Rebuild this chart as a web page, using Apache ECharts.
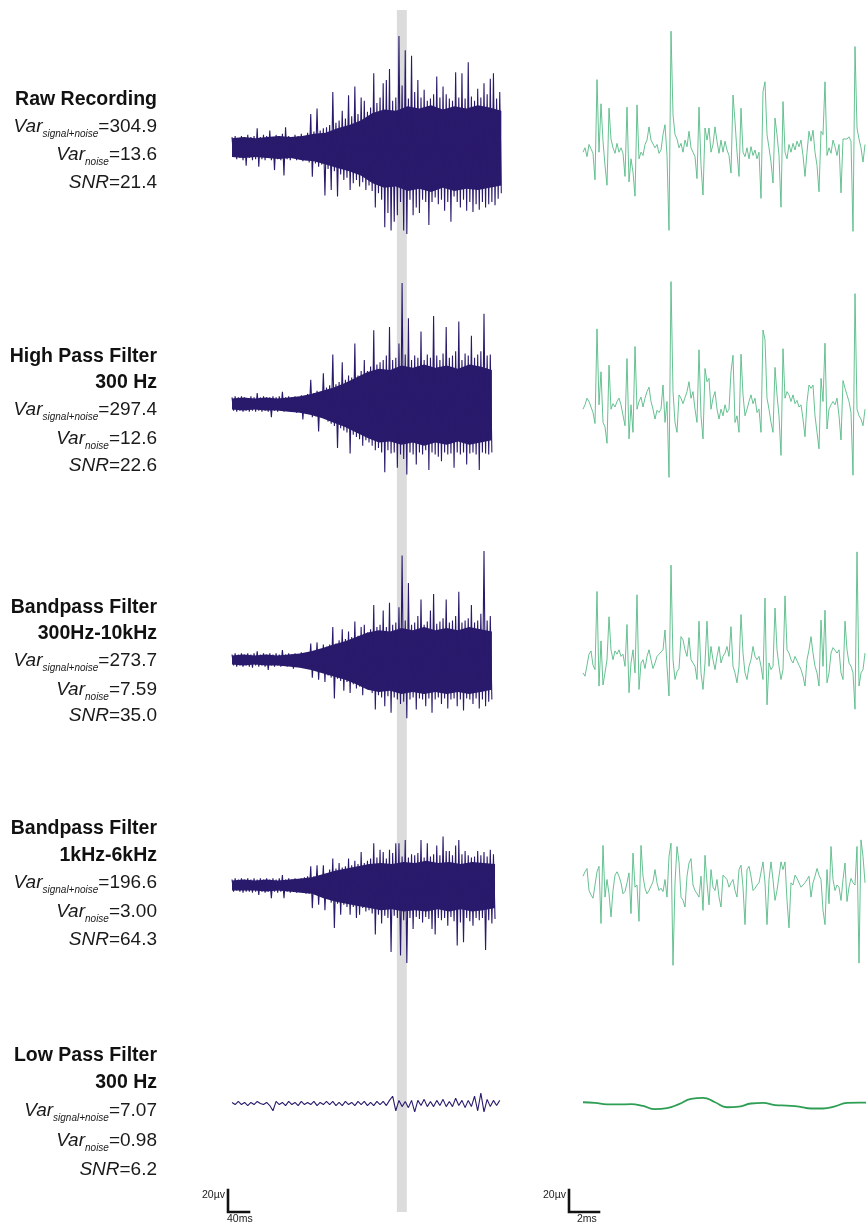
<!DOCTYPE html>
<html><head><meta charset="utf-8">
<script src="https://cdn.jsdelivr.net/npm/echarts@6/dist/echarts.min.js"></script>
<style>html,body{margin:0;padding:0;background:#fff}#c{width:866px;height:1228px}</style>
</head><body><div id="c"></div><script>
// ---------------- DATA ----------------
const rowTitles = [['Raw Recording'], ['High Pass Filter', '300 Hz'], ['Bandpass Filter', '300Hz-10kHz'], ['Bandpass Filter', '1kHz-6kHz'], ['Low Pass Filter', '300 Hz']];
const varSignalNoise = ['304.9', '297.4', '273.7', '196.6', '7.07'];
const varNoise = ['13.6', '12.6', '7.59', '3.00', '0.98'];
const snrValues = ['21.4', '22.6', '35.0', '64.3', '6.2'];
const highlightWindowMs = [314, 333];          // grey band on the long traces
const scaleLeft = { uv: 20, ms: 40, uvLabel: '20µv', msLabel: '40ms' };
const scaleRight = { uv: 20, ms: 2, uvLabel: '20µv', msLabel: '2ms' };

// long traces (µV): extremes per 6 ms bin (upper, lower)
const raw_upper = [9,10,8,10,9,11,9,10,17,9, 11,10,15,9,11,10,12,18,10,9, 11,10,12,10,13,30,14,35,15,17, 18,20,50,22,24,33,26,47,28,55, 30,45,42,32,36,67,40,45,58,61, 71,42,45,101,56,88,44,83,50,61, 45,52,42,44,48,64,45,55,48,44, 42,68,45,67,44,77,46,42,53,45, 58,48,62,67,44,50];
const raw_lower = [-9,-11,-10,-12,-17,-10,-12,-11,-18,-11, -12,-10,-12,-21,-11,-12,-26,-11,-12,-10, -12,-11,-13,-12,-14,-27,-15,-18,-16,-44, -20,-39,-22,-45,-25,-30,-28,-39,-33,-30, -36,-32,-39,-35,-40,-55,-42,-48,-73,-60, -76,-68,-62,-50,-76,-79,-48,-62,-55,-60, -48,-50,-71,-50,-46,-52,-48,-58,-50,-68, -45,-50,-55,-48,-58,-50,-59,-52,-57,-50, -55,-52,-50,-53,-47,-42];
const hp_upper = [6,7,6,7,6,5,7,6,10,6, 7,6,6,7,6,7,11,6,7,6, 7,6,8,7,9,22,10,12,11,28, 15,17,45,18,20,38,22,26,24,55, 26,30,40,30,34,67,36,38,40,44, 70,40,42,55,110,45,78,40,44,42, 66,40,45,42,80,44,40,46,70,42, 44,48,75,40,46,44,62,42,45,48, 82,44,45];
const hp_lower = [-6,-7,-6,-7,-6,-7,-6,-7,-6,-7, -6,-7,-12,-6,-7,-6,-7,-6,-7,-6, -8,-7,-14,-8,-9,-12,-11,-25,-12,-13, -16,-18,-20,-40,-22,-24,-26,-45,-28,-30, -32,-38,-33,-35,-38,-42,-40,-44,-62,-42, -45,-44,-58,-46,-50,-64,-44,-46,-55,-44, -46,-42,-60,-44,-46,-48,-52,-44,-46,-45, -58,-44,-46,-44,-55,-45,-44,-46,-60,-44, -45,-46,-44];
const bp1_upper = [5,6,5,6,5,6,5,6,8,5, 6,5,6,5,6,5,9,5,6,5, 6,5,7,6,7,15,8,16,9,14, 12,14,30,15,18,28,19,26,21,35, 22,30,32,25,28,50,30,32,45,30, 52,32,34,48,95,36,70,32,34,40, 55,32,35,45,60,33,35,38,55,34, 36,40,62,34,36,38,50,34,36,42, 99,36,40];
const bp1_lower = [-5,-6,-5,-6,-5,-6,-7,-5,-6,-5, -6,-9,-5,-6,-5,-6,-5,-6,-5,-8, -6,-5,-6,-7,-8,-16,-9,-18,-10,-20, -14,-16,-35,-17,-19,-28,-20,-30,-22,-26, -24,-32,-25,-27,-30,-45,-32,-34,-42,-33, -48,-34,-36,-40,-38,-53,-36,-34,-45,-35, -36,-42,-35,-48,-36,-34,-40,-35,-44,-36, -35,-42,-36,-46,-35,-36,-40,-35,-44,-36, -42,-38,-36];
const bp2_upper = [5,6,5,6,5,6,5,6,5,6, 5,6,5,6,5,6,9,5,6,5, 6,5,6,7,8,17,8,18,9,18, 10,14,24,15,20,16,17,24,18,22, 19,30,20,22,24,38,25,32,30,24, 32,29,38,38,26,41,25,28,27,29, 41,25,38,26,28,36,27,44,31,31, 27,36,41,28,31,27,25,26,31,27, 30,26,32,28];
const bp2_lower = [-6,-5,-6,-7,-6,-6,-7,-6,-9,-6, -7,-6,-12,-6,-7,-6,-12,-6,-7,-6, -7,-6,-7,-8,-8,-21,-9,-18,-10,-23, -11,-16,-39,-17,-27,-18,-20,-27,-20,-30, -27,-21,-24,-23,-26,-45,-27,-35,-28,-30, -61,-28,-30,-64,-32,-71,-30,-40,-29,-31, -34,-29,-31,-40,-45,-30,-32,-30,-37,-29, -33,-55,-34,-52,-30,-33,-37,-30,-32,-30, -59,-32,-35,-31];
// dense core band of each long trace (µV), 24 readings spread evenly over the trace
const raw_core_upper = [8,9,8,9,10,9,10,12,13,17,20,24,31,34,33,37,35,38,34,37,35,38,36,33];
const raw_core_lower = [-9,-10,-9,-10,-11,-10,-12,-13,-16,-19,-22,-26,-33,-37,-36,-40,-38,-41,-37,-40,-38,-39,-37,-35];
const hp_core_upper = [5,6,5,6,5,6,7,9,12,15,19,24,29,32,31,35,33,36,33,35,32,36,34,31];
const hp_core_lower = [-5,-6,-5,-6,-6,-7,-8,-10,-13,-17,-21,-26,-31,-35,-34,-37,-35,-38,-35,-37,-34,-37,-35,-33];
const bp1_core_upper = [4,5,4,5,4,5,6,8,11,14,17,21,25,27,26,29,27,30,27,29,27,30,28,26];
const bp1_core_lower = [-4,-5,-4,-5,-5,-6,-7,-9,-12,-15,-18,-22,-27,-29,-28,-31,-29,-31,-29,-31,-29,-31,-29,-27];
const bp2_core_upper = [4,5,4,5,4,5,6,7,10,13,15,17,19,20,19,21,20,22,20,21,19,21,20,19];
const bp2_core_lower = [-5,-5,-5,-6,-5,-6,-7,-8,-12,-15,-17,-19,-21,-23,-22,-24,-23,-24,-22,-24,-22,-24,-23,-21];
const lp_long = [1,-1,2,-1,1,-2,1,-1,2,0, -1,1,-2,-7,2,-1,1,-2,2,-1, 1,-2,2,-1,1,-1,2,-2,1,-1, 2,-1,2,-2,1,-2,2,-1,1,-2, 2,-1,2,-2,1,-2,2,-1,2,-2, 3,7,-7,3,-3,2,-4,3,-8,3, -2,4,-3,2,-3,3,-2,4,-3,2, -3,5,-2,3,-4,3,-3,7,-7,10, -8,4,-3,3,-2,3];

// short (zoomed) traces (µV), one sample every 2/15 ms
const raw_short = [-2,2,-6,5,5,-3,-27,64,-2,42, 8,-14,-32,38,10,2,-3,6,-2,2, -3,-24,39,-29,-8,-20,-42,41,-8,-2, -5,5,9,21,9,8,2,5,-3,0, 14,23,-5,-73,108,32,14,10,2,6, -2,9,3,17,2,-2,-6,-26,39,-14, -41,20,9,20,-2,5,21,8,-3,9, -2,8,0,-5,-21,50,26,-2,-24,38, -2,-6,2,-8,3,-5,0,-8,-2,-44, 53,62,14,2,-11,-30,29,14,-5,-52, 44,-2,-8,5,-2,6,0,8,3,9, -5,-24,-2,17,8,18,-2,-14,-38,17, 14,62,-5,2,-3,9,3,-5,5,-39, 10,9,10,12,8,-74,94,20,10,2, -11,5];
const hp_short = [-2,2,8,5,6,-5,-15,71,2,32, -14,-18,-33,38,-2,3,0,5,8,2, 3,-17,44,-29,2,-23,55,-2,5,9, 0,8,14,18,5,-2,-11,-3,-5,-2, 20,-14,5,-64,114,14,-14,-23,11,8, 3,2,14,23,8,14,-2,-14,52,-8, -29,35,23,26,-2,8,14,-2,-11,-2, -8,2,-5,-2,32,47,-14,-8,-23,48, 11,-8,-2,5,11,3,8,-5,-2,-23, 70,61,8,-2,-14,-23,36,11,-8,-44, 53,8,14,11,5,11,3,6,0,2, -11,-27,5,20,17,20,-8,-23,-38,26, 5,58,-20,-2,2,5,2,8,-8,-30, 24,17,11,5,-5,-62,103,-2,-8,-11, -17,-2];
const bp1_short = [-9,-12,-2,8,11,-2,-6,65,-21,20, -20,-9,3,42,12,3,11,8,12,6, 8,-3,35,-27,0,12,-9,62,-24,0, 3,-5,6,12,3,-5,0,6,8,9, 12,30,-3,-30,89,3,-15,-8,-5,24, 21,12,6,23,3,0,-3,-15,38,-9, -24,0,38,-3,15,3,-6,6,15,0, 6,9,15,6,33,-3,-9,-18,-3,44, 9,-9,-15,-3,3,15,6,3,6,-3, -15,59,-38,0,-6,-3,50,12,-3,-15, -6,61,12,9,3,0,6,2,-2,-6, -12,-21,3,12,24,9,-3,-9,-21,39, -3,48,-18,-9,9,14,15,9,12,-9, -15,38,12,0,-3,-9,-42,101,-21,-9, -6,9];
const bp2_short = [8,12,15,-5,-9,-12,0,12,17,-35, 36,-11,5,-8,-29,-5,9,12,8,2, -8,-6,2,11,-26,29,-2,0,-33,36, 8,-3,-8,-5,-6,3,14,2,-5,-3, -6,5,-11,26,38,-73,2,35,21,-11, -14,-20,8,20,24,0,-5,-8,-11,8, -23,27,2,-18,14,-2,-5,5,-11,-20, 9,8,5,-2,2,5,-5,-11,14,18, -2,-36,14,17,8,-5,-3,0,2,3, 21,2,-36,5,21,5,-14,-5,8,21, 14,21,-14,-39,2,0,9,6,5,-2, -3,2,5,8,-11,2,8,15,9,5, -23,-36,14,-17,35,5,-5,0,-2,-14, 5,20,-15,-2,6,2,0,35,-71,41, 26,2];
// low-pass short trace, one sample every 0.8 ms
const lp_short = [1.2,0.6,-0.9,-0.9,-0.6,-2.4,-5.5,-4.5,-0.6,4.5, 5.5,1.2,-3.6,-3,0,0.6,-1.5,-2.1,-3,-4.8, -4.8,-2.7,0.6,0.9,0.6];

// ---------------- LAYOUT ----------------
const PX_PER_UV = 1.1, Y_RANGE = 120;
const LONG = { left: 232, pxPerMs: 0.525, binMs: 6, maxMs: 513 };
const SHORT = { left: 583, pxPerMs: 15, dtMs: 2 / 15, lpDtMs: 0.8, maxMs: 18.8 };
const blueCenters = [147, 404, 660, 885, 1111];
const greenCenters = [150, 407, 663, 885, 1111];
const titleY = [[100], [357, 383], [608, 634], [829, 856], [1056, 1083]];
const statY = [[127, 155, 183], [410, 439, 466], [661, 690, 716], [883, 912, 940], [1111, 1141, 1170]];
const BLUE_C = '#2a1a6c', GREEN_C = '#56ba86', GREEN_LP = '#2e9e55';

const longSets = [[raw_upper, raw_lower], [hp_upper, hp_lower], [bp1_upper, bp1_lower], [bp2_upper, bp2_lower]];
const coreSets = [[raw_core_upper, raw_core_lower], [hp_core_upper, hp_core_lower], [bp1_core_upper, bp1_core_lower], [bp2_core_upper, bp2_core_lower]];
const shortSets = [raw_short, hp_short, bp1_short, bp2_short];

function dense(up, lo, bin) { const o = []; for (let k = 0; k < up.length; k++) { o.push([k * bin, up[k]]); o.push([k * bin + bin / 2, lo[k]]); } return o; }
function simple(v, dt) { return v.map((y, i) => [i * dt, y]); }
function spread(v, spanMs) { return v.map((y, i) => [i * spanMs / (v.length - 1), y]); }

const grid = [], xAxis = [], yAxis = [], series = [];
function addGrid(g, xmin, xmax, ymin, ymax) {
  grid.push(g); const i = grid.length - 1;
  xAxis.push({ type: 'value', gridIndex: i, min: xmin, max: xmax, show: false });
  yAxis.push({ type: 'value', gridIndex: i, min: ymin, max: ymax, show: false });
  return i;
}
const H = 2 * Y_RANGE * PX_PER_UV;

// grey band
const bandIdx = addGrid({ left: LONG.left, top: 10, width: LONG.maxMs * LONG.pxPerMs, height: 1202 }, 0, LONG.maxMs, 0, 1);
series.push({ type: 'line', xAxisIndex: bandIdx, yAxisIndex: bandIdx, data: [[0, 0]], symbol: 'none', lineStyle: { opacity: 0 }, z: 0,
  markArea: { silent: true, itemStyle: { color: '#dcdcdc' }, data: [[{ xAxis: highlightWindowMs[0] }, { xAxis: highlightWindowMs[1] }]] } });

for (let r = 0; r < 5; r++) {
  const bi = addGrid({ left: LONG.left, top: blueCenters[r] - H / 2, width: LONG.maxMs * LONG.pxPerMs, height: H }, 0, LONG.maxMs, -Y_RANGE, Y_RANGE);
  if (r < 4) {
    const span = (longSets[r][0].length - 1) * LONG.binMs + LONG.binMs / 2;
    coreSets[r].forEach(c => series.push({ type: 'line', xAxisIndex: bi, yAxisIndex: bi, data: spread(c, span), symbol: 'none', z: 2,
      lineStyle: { width: 0, opacity: 0 }, areaStyle: { color: BLUE_C, opacity: 1 } }));
    series.push({ type: 'line', xAxisIndex: bi, yAxisIndex: bi, data: dense(longSets[r][0], longSets[r][1], LONG.binMs), symbol: 'none', z: 3,
      lineStyle: { color: BLUE_C, width: 1.1 } });
  } else {
    series.push({ type: 'line', xAxisIndex: bi, yAxisIndex: bi, data: simple(lp_long, LONG.binMs), symbol: 'none', z: 3,
      lineStyle: { color: BLUE_C, width: 1.1 } });
  }
  const gi = addGrid({ left: SHORT.left, top: greenCenters[r] - H / 2, width: SHORT.maxMs * SHORT.pxPerMs, height: H }, 0, SHORT.maxMs, -Y_RANGE, Y_RANGE);
  const gdata = r < 4 ? simple(shortSets[r], SHORT.dtMs) : simple(lp_short, SHORT.lpDtMs);
  series.push({ type: 'line', xAxisIndex: gi, yAxisIndex: gi, data: gdata, symbol: 'none', z: 3, smooth: r === 4,
    lineStyle: { color: r < 4 ? GREEN_C : GREEN_LP, width: r < 4 ? 0.9 : 1.8 } });
}

// scale bars
function scaleBar(left, sb, pxPerMs) {
  const i = addGrid({ left: left, top: 1212 - sb.uv * PX_PER_UV, width: sb.ms * pxPerMs, height: sb.uv * PX_PER_UV }, 0, sb.ms, 0, sb.uv);
  series.push({ type: 'line', xAxisIndex: i, yAxisIndex: i, data: [[0, sb.uv], [0, 0], [sb.ms, 0]], symbol: 'none', clip: false, z: 4,
    lineStyle: { color: '#111', width: 2.6, cap: 'square', join: 'miter' } });
}
scaleBar(228, scaleLeft, LONG.pxPerMs);
scaleBar(569, scaleRight, SHORT.pxPerMs);

// ---------------- TEXT ----------------
const FF = '"Liberation Sans", Arial, Helvetica, sans-serif';
const rich = {
  it: { fontFamily: FF, fontSize: 19, fontStyle: 'italic', lineHeight: 24, fill: '#1a1a1a' },
  n: { fontFamily: FF, fontSize: 19, lineHeight: 24, fill: '#1a1a1a' },
  sub: { fontFamily: FF, fontSize: 10, fontStyle: 'italic', lineHeight: 9, verticalAlign: 'bottom', fill: '#1a1a1a' }
};
const graphic = [];
for (let r = 0; r < 5; r++) {
  rowTitles[r].forEach((t, j) => graphic.push({ type: 'text', x: 157, y: titleY[r][j], z: 10,
    style: { text: t, font: 'bold 19.5px ' + FF, fill: '#111', textAlign: 'right', textVerticalAlign: 'middle' } }));
  const lines = ['{it|Var}{sub|signal+noise}{n|=' + varSignalNoise[r] + '}', '{it|Var}{sub|noise}{n|=' + varNoise[r] + '}', '{it|SNR}{n|=' + snrValues[r] + '}'];
  lines.forEach((t, j) => graphic.push({ type: 'text', x: 157, y: statY[r][j], z: 10,
    style: { text: t, rich, font: '19px ' + FF, fill: '#1a1a1a', textAlign: 'right', textVerticalAlign: 'middle' } }));
}
const small = '10.5px ' + FF;
graphic.push({ type: 'text', x: 225, y: 1195, style: { text: scaleLeft.uvLabel, font: small, fill: '#222', textAlign: 'right', textVerticalAlign: 'middle' } });
graphic.push({ type: 'text', x: 227, y: 1219, style: { text: scaleLeft.msLabel, font: small, fill: '#222', textAlign: 'left', textVerticalAlign: 'middle' } });
graphic.push({ type: 'text', x: 566, y: 1195, style: { text: scaleRight.uvLabel, font: small, fill: '#222', textAlign: 'right', textVerticalAlign: 'middle' } });
graphic.push({ type: 'text', x: 577, y: 1219, style: { text: scaleRight.msLabel, font: small, fill: '#222', textAlign: 'left', textVerticalAlign: 'middle' } });

const chart = echarts.init(document.getElementById('c'), null, { renderer: 'canvas', width: 866, height: 1228 });
chart.setOption({ animation: false, backgroundColor: '#fff', grid, xAxis, yAxis, series, graphic });
</script></body></html>
